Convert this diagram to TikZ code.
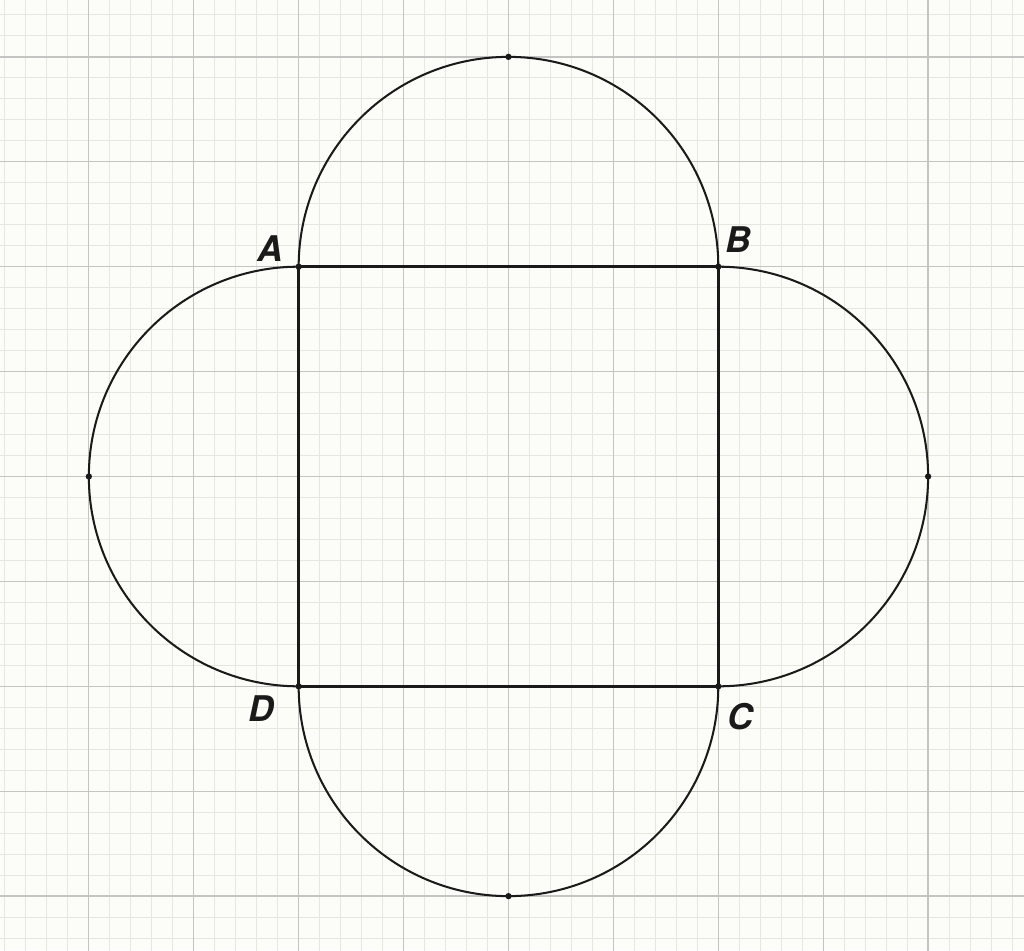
\documentclass[tikz,border=0pt]{standalone}
\usepackage{fontspec}
\setsansfont{TeX Gyre Heros}
\definecolor{bgcol}{HTML}{FCFDF8}
\definecolor{minorcol}{HTML}{E6E8DF}
\definecolor{majorcol}{HTML}{C4C4C2}
\definecolor{inkcol}{HTML}{1A1A1A}
\tikzset{
  minorgrid/.style={draw=minorcol, line width=0.28pt},
  majorgrid/.style={draw=majorcol, line width=0.35pt},
  edge/.style={draw=inkcol, line width=0.7pt},
  curve/.style={draw=inkcol, line width=0.55pt},
  dotpt/.style={fill=inkcol},
  lbl/.style={font=\fontsize{9.6}{11}\selectfont\sffamily\bfseries\itshape, text=inkcol, inner sep=0pt}
}
\begin{document}
\begin{tikzpicture}[x=1cm,y=1cm]
\useasboundingbox (-4.847,-4.514) rectangle (4.914,4.542);
\fill[bgcol] (-4.847,-4.514) rectangle (4.914,4.542);
\begin{scope}
\clip (-4.847,-4.514) rectangle (4.914,4.542);
\draw[minorgrid] (-5,-5) grid[step=0.2] (5,5);
\draw[majorgrid] (-5,-5) grid[step=1] (5,5);
\end{scope}
\coordinate (A) at (-2,2);
\coordinate (B) at (2,2);
\coordinate (C) at (2,-2);
\coordinate (D) at (-2,-2);
\coordinate (T) at (0,4);
\coordinate (L) at (-4,0);
\coordinate (R) at (4,0);
\coordinate (M) at (0,-4);
\draw[curve] (A) arc[start angle=180, end angle=0, radius=2];
\draw[curve] (B) arc[start angle=90, end angle=-90, radius=2];
\draw[curve] (C) arc[start angle=0, end angle=-180, radius=2];
\draw[curve] (D) arc[start angle=-90, end angle=-270, radius=2];
\draw[edge] (A) -- (B) -- (C) -- (D) -- cycle;
\foreach \p in {A,B,C,D,T,L,R,M} \fill[dotpt] (\p) circle[radius=0.03];
\node[lbl] (la) at (-2.27,2.17) {A};
\node[lbl] (lb) at (2.19,2.26) {B};
\node[lbl] (lc) at (2.21,-2.29) {C};
\node[lbl] (ld) at (-2.36,-2.21) {D};
\end{tikzpicture}
\end{document}
